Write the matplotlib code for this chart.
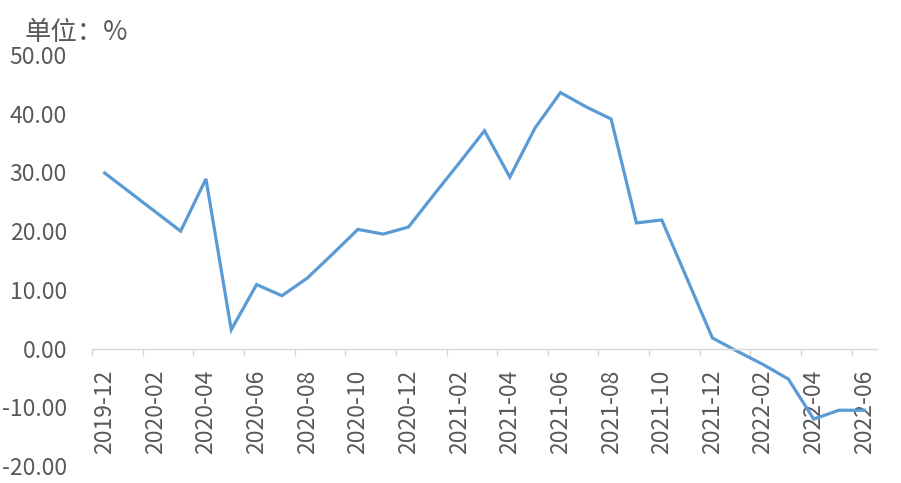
import numpy as np
import matplotlib
matplotlib.use('Agg')
import matplotlib.pyplot as plt
from matplotlib.ticker import FixedLocator, FormatStrFormatter

plt.rcParams['font.family'] = ['Noto Sans CJK SC', 'DejaVu Sans']

# 月度数据 2019-12 至 2022-06
months = ['2019-12', '2020-01', '2020-02', '2020-03', '2020-04', '2020-05', '2020-06',
          '2020-07', '2020-08', '2020-09', '2020-10', '2020-11', '2020-12',
          '2021-01', '2021-02', '2021-03', '2021-04', '2021-05', '2021-06',
          '2021-07', '2021-08', '2021-09', '2021-10', '2021-11', '2021-12',
          '2022-01', '2022-02', '2022-03', '2022-04', '2022-05', '2022-06']
values = [29.9, 26.6, 23.3, 20.0, 28.9, 3.2, 10.9,
          9.0, 12.0, 16.1, 20.3, 19.5, 20.7,
          26.2, 31.6, 37.1, 29.2, 37.6, 43.6,
          41.2, 39.1, 21.4, 21.9, 11.9, 1.8,
          -0.5, -2.7, -5.2, -12.0, -10.5, -10.5]
y_ticks = [-20, -10, 0, 10, 20, 30, 40, 50]

txt = '#595959'
fig = plt.figure(figsize=(9.01, 4.83), dpi=100)
ax = fig.add_axes([92/901, 17/483, (877-92)/901, (466-55)/483])

x = np.arange(len(months))
ax.plot(x, values, color='#5B9BD5', lw=2.3, solid_joinstyle='miter')

ax.set_xlim(-0.5, len(months) - 0.5)
ax.set_ylim(-20, 50)

for s in ['top', 'right', 'left']:
    ax.spines[s].set_visible(False)
ax.spines['bottom'].set_position(('data', 0))
ax.spines['bottom'].set_color('#D9D9D9')
ax.spines['bottom'].set_linewidth(1.0)

# 刻度线在类别边界，标签在类别中心
ax.xaxis.set_major_locator(FixedLocator(np.arange(-0.5, len(months) - 1, 2)))
ax.xaxis.set_major_formatter(plt.NullFormatter())
ax.xaxis.set_minor_locator(FixedLocator(x[::2]))
ax.set_xticklabels(months[::2], minor=True, rotation=90, fontsize=16.5,
                   color=txt, fontweight='medium')
ax.tick_params(axis='x', which='major', length=5, width=1, color='#D9D9D9', direction='out')
ax.tick_params(axis='x', which='minor', length=0, pad=15)

ax.set_yticks(y_ticks)
ax.yaxis.set_major_formatter(FormatStrFormatter('%.2f'))
ax.tick_params(axis='y', length=0, pad=18, labelsize=16.5, labelcolor=txt)
for lb in ax.get_yticklabels():
    lb.set_fontweight('medium')

fig.text(25/901, 1 - 32/483, '单位：%', fontsize=19, color=txt, va='center',
         ha='left', fontweight='medium')

fig.savefig('out.png', dpi=100)
